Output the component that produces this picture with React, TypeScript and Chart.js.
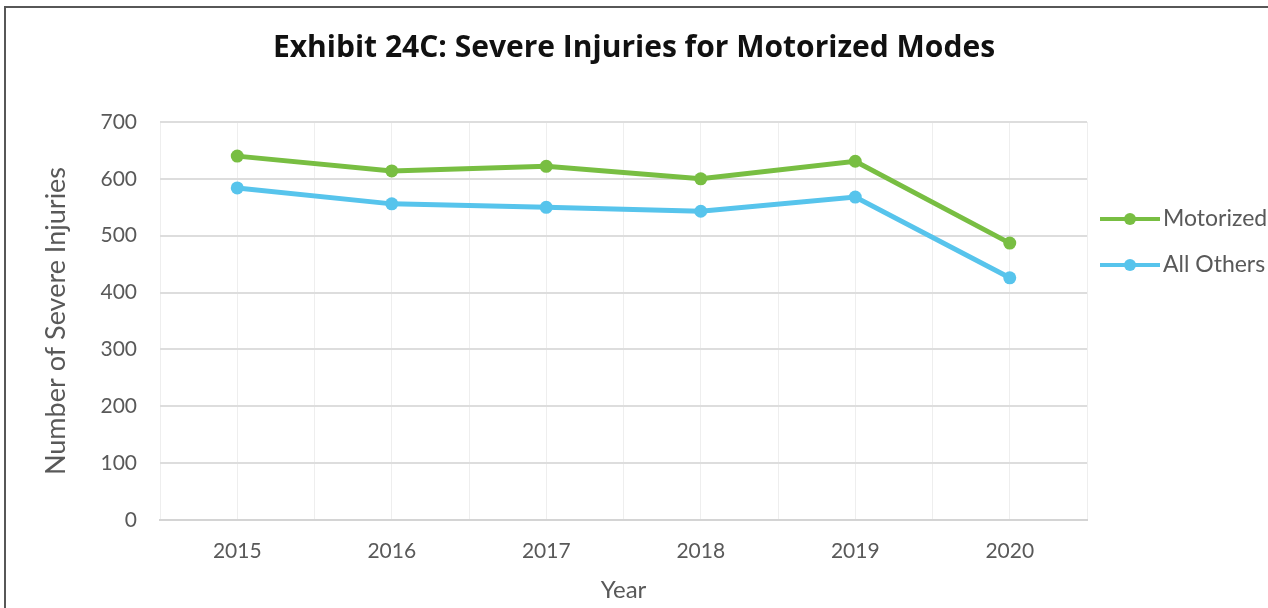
import React, { useEffect, useRef } from "react";
import { Chart, registerables } from "chart.js";

Chart.register(...registerables);

const years = ["2015", "2016", "2017", "2018", "2019", "2020"];
const motorized = [640, 614, 622, 600, 631, 487];
const allOthers = [584, 556, 550, 543, 568, 426];
const yTicks = [0, 100, 200, 300, 400, 500, 600, 700];
const seriesNames = ["Motorized", "All Others"];
const seriesColors = ["#78BE42", "#57C4EC"];

const TICK_COLOR = "#595959";

const lineLegend = {
  id: "lineLegend",
  afterDraw(chart: any) {
    const { ctx, chartArea } = chart;
    const x0 = chartArea.right + 13;
    const rows = [97, 143];
    ctx.save();
    chart.data.datasets.forEach((ds: any, i: number) => {
      const y = chartArea.top + rows[i];
      ctx.strokeStyle = ds.borderColor;
      ctx.lineWidth = 4;
      ctx.beginPath();
      ctx.moveTo(x0, y);
      ctx.lineTo(x0 + 60, y);
      ctx.stroke();
      ctx.fillStyle = ds.borderColor;
      ctx.beginPath();
      ctx.arc(x0 + 30, y, 6, 0, Math.PI * 2);
      ctx.fill();
      ctx.fillStyle = TICK_COLOR;
      ctx.font = "23px Lato";
      ctx.textBaseline = "middle";
      ctx.textAlign = "left";
      ctx.fillText(ds.label, x0 + 63, y);
    });
    ctx.restore();
  },
};

export default function App() {
  const ref = useRef<HTMLCanvasElement | null>(null);

  useEffect(() => {
    if (!ref.current) return;
    const series = [motorized, allOthers];
    const chart = new Chart(ref.current, {
      type: "line",
      data: {
        datasets: series.map((vals, i) => ({
          label: seriesNames[i],
          data: vals.map((v, j) => ({ x: j, y: v })),
          borderColor: seriesColors[i],
          backgroundColor: seriesColors[i],
          borderWidth: 5,
          pointRadius: 6.5,
          pointBorderWidth: 0,
          pointBackgroundColor: seriesColors[i],
          tension: 0,
          fill: false,
        })),
      },
      options: {
        animation: false,
        responsive: false,
        maintainAspectRatio: false,
        layout: { padding: 0 },
        plugins: {
          legend: { display: false },
          tooltip: { enabled: false },
          title: {
            display: true,
            text: "Exhibit 24C: Severe Injuries for Motorized Modes",
            color: "#111111",
            font: { family: "Open Sans", size: 30, weight: "700" },
            padding: { top: 30, bottom: 56 },
          },
        },
        scales: {
          x: {
            type: "linear",
            min: -0.5,
            max: years.length - 0.5,
            afterBuildTicks: (scale: any) => {
              const t: any[] = [];
              for (let v = -0.5; v <= years.length - 0.5 + 1e-9; v += 0.5) t.push({ value: v });
              scale.ticks = t;
            },
            afterFit: (scale: any) => {
              scale.height = 88;
            },
            ticks: {
              autoSkip: false,
              maxRotation: 0,
              padding: 19,
              color: TICK_COLOR,
              font: { family: "Lato", size: 21 },
              callback: (v: any) => (Number.isInteger(v) && years[v] !== undefined ? years[v] : ""),
            },
            grid: { color: "#EEEEEE", lineWidth: 1, drawTicks: false },
            border: { display: true, color: "#D4D4D4", width: 2 },
            title: {
              display: true,
              text: "Year",
              color: TICK_COLOR,
              font: { family: "Lato", size: 24 },
              padding: { top: 0, bottom: 3 },
            },
          },
          y: {
            min: 0,
            max: 700,
            afterBuildTicks: (scale: any) => {
              scale.ticks = yTicks.map((v) => ({ value: v }));
            },
            afterFit: (scale: any) => {
              scale.width = 160;
            },
            ticks: {
              padding: 23,
              color: TICK_COLOR,
              font: { family: "Lato", size: 21 },
            },
            grid: { color: "#DDDDDD", lineWidth: 2, drawTicks: false },
            border: { display: false },
            title: {
              display: true,
              text: "Number of Severe Injuries",
              color: TICK_COLOR,
              font: { family: "Lato", size: 27 },
              padding: { top: 40, bottom: 0 },
            },
          },
          yRight: {
            position: "right",
            display: true,
            afterFit: (scale: any) => {
              scale.width = 181;
            },
            ticks: { display: false },
            grid: { display: false },
            border: { display: false },
          },
        },
      },
      plugins: [lineLegend],
    } as any);
    return () => chart.destroy();
  }, []);

  return (
    <div
      style={{
        position: "fixed",
        left: 0,
        top: 0,
        width: 1268,
        height: 608,
        overflow: "hidden",
        background: "#ffffff",
      }}
    >
      <div
        style={{
          position: "absolute",
          left: 4,
          top: 6,
          width: 2000,
          height: 2000,
          border: "2px solid #575757",
        }}
      />
      <canvas
        ref={ref}
        width={1268}
        height={608}
        style={{ position: "absolute", left: 0, top: 0, width: 1268, height: 608 }}
      />
    </div>
  );
}
